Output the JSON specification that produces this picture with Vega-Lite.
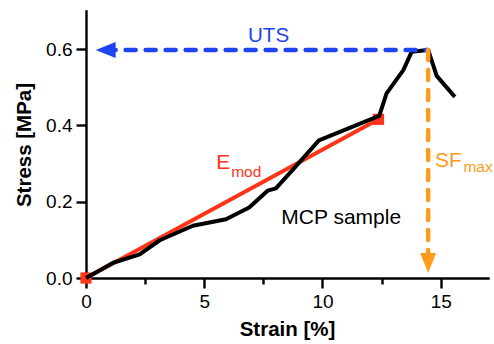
{
  "$schema": "https://vega.github.io/schema/vega-lite/v6.json",
  "width": 402,
  "height": 267,
  "autosize": {"type": "none"},
  "padding": {"left": 86, "top": 11, "right": 6, "bottom": 66},
  "background": "white",
  "config": {
    "view": {"stroke": null},
    "font": "Liberation Sans",
    "axis": {"grid": false, "zindex": 0, "labelFlush": false, "domainColor": "black", "domainWidth": 2.4, "tickColor": "black", "tickWidth": 2.4, "labelColor": "black", "titleColor": "black", "labelFont": "Liberation Sans", "titleFont": "Liberation Sans", "labelFontSize": 19, "titleFontSize": 20.5, "titleFontWeight": "bold", "domainCap": "square"}
  },
  "datasets": {
    "curve": [
      {"strain": 0, "stress": 0},
      {"strain": 1.15, "stress": 0.040},
      {"strain": 2.27, "stress": 0.062},
      {"strain": 3.12, "stress": 0.099},
      {"strain": 4.52, "stress": 0.137},
      {"strain": 5.92, "stress": 0.154},
      {"strain": 6.9, "stress": 0.185},
      {"strain": 7.68, "stress": 0.229},
      {"strain": 8.03, "stress": 0.235},
      {"strain": 8.73, "stress": 0.283},
      {"strain": 9.85, "stress": 0.361},
      {"strain": 12.4, "stress": 0.425},
      {"strain": 12.71, "stress": 0.484},
      {"strain": 13.42, "stress": 0.545},
      {"strain": 13.77, "stress": 0.593},
      {"strain": 14.47, "stress": 0.598},
      {"strain": 14.83, "stress": 0.530},
      {"strain": 15.6, "stress": 0.475}
    ],
    "emod": [
      {"strain": 0, "stress": 0},
      {"strain": 12.37, "stress": 0.416}
    ],
    "uts": [
      {"strain": 0.83, "stress": 0.598},
      {"strain": 14.47, "stress": 0.598}
    ],
    "sf": [
      {"strain": 14.47, "stress": 0.598},
      {"strain": 14.47, "stress": 0.04}
    ],
    "utsHead": [{"strain": 0.83, "stress": 0.598}],
    "sfHead": [{"strain": 14.47, "stress": 0.039}],
    "utsLabel": [{"strain": 7.72, "stress": 0.618, "label": "UTS"}],
    "eLabel": [{"strain": 5.51, "stress": 0.285, "label": "E"}],
    "eSub": [{"strain": 6.14, "stress": 0.266, "label": "mod"}],
    "sfLabel": [{"strain": 14.76, "stress": 0.292, "label": "SF"}],
    "sfSub": [{"strain": 15.96, "stress": 0.279, "label": "max"}],
    "mcpLabel": [{"strain": 8.26, "stress": 0.141, "label": "MCP sample"}]
  },
  "encoding": {
    "x": {"field": "strain", "type": "quantitative", "scale": {"domain": [0, 17], "nice": false, "zero": false},
      "axis": {"title": "Strain [%]", "values": [0, 2.5, 5, 7.5, 10, 12.5, 15], "labelExpr": "datum.value % 5 === 0 ? format(datum.value, 'd') : ''", "tickSize": {"condition": {"test": "datum.value % 5 !== 0", "value": 6}, "value": 10}, "labelPadding": 4, "titlePadding": 8}},
    "y": {"field": "stress", "type": "quantitative", "scale": {"domain": [0, 0.7], "nice": false},
      "axis": {"title": "Stress [MPa]", "values": [0, 0.2, 0.4, 0.6], "format": ".1f", "tickSize": 10, "labelPadding": 4, "titlePadding": 11}}
  },
  "layer": [
    {"data": {"name": "emod"}, "mark": {"type": "line", "color": "#ff3418", "strokeWidth": 4, "zindex": 1}},
    {"data": {"name": "emod"}, "mark": {"type": "point", "shape": "square", "filled": true, "opacity": 1, "color": "#ff3418", "size": 125, "clip": false, "zindex": 1}},
    {"data": {"name": "curve"}, "mark": {"type": "line", "color": "black", "strokeWidth": 4, "strokeJoin": "round", "zindex": 1}},
    {"data": {"name": "uts"}, "mark": {"type": "line", "color": "#1d43f2", "strokeWidth": 4.5, "strokeDash": [10, 10], "strokeCap": "round", "zindex": 1}},
    {"data": {"name": "sf"}, "mark": {"type": "line", "color": "#ff9b1a", "strokeWidth": 4.5, "strokeDash": [10, 10], "strokeCap": "round", "zindex": 1}},
    {"data": {"name": "utsHead"}, "mark": {"type": "point", "shape": "M -1 0 L 1 -0.8 L 1 0.8 Z", "filled": true, "opacity": 1, "color": "#1d43f2", "size": 400, "zindex": 1}},
    {"data": {"name": "sfHead"}, "mark": {"type": "point", "shape": "M 0 1 L -0.8 -1 L 0.8 -1 Z", "filled": true, "opacity": 1, "color": "#ff9b1a", "size": 400, "zindex": 1}},
    {"data": {"name": "utsLabel"}, "mark": {"type": "text", "color": "#1d43f2", "fontSize": 20.5, "align": "center", "baseline": "alphabetic"}, "encoding": {"text": {"field": "label"}}},
    {"data": {"name": "eLabel"}, "mark": {"type": "text", "color": "#ff3418", "fontSize": 21, "align": "left", "baseline": "alphabetic"}, "encoding": {"text": {"field": "label"}}},
    {"data": {"name": "eSub"}, "mark": {"type": "text", "color": "#ff3418", "fontSize": 15.5, "align": "left", "baseline": "alphabetic"}, "encoding": {"text": {"field": "label"}}},
    {"data": {"name": "sfLabel"}, "mark": {"type": "text", "color": "#ff9b1a", "fontSize": 21, "align": "left", "baseline": "alphabetic"}, "encoding": {"text": {"field": "label"}}},
    {"data": {"name": "sfSub"}, "mark": {"type": "text", "color": "#ff9b1a", "fontSize": 15.5, "align": "left", "baseline": "alphabetic"}, "encoding": {"text": {"field": "label"}}},
    {"data": {"name": "mcpLabel"}, "mark": {"type": "text", "color": "black", "fontSize": 21, "align": "left", "baseline": "alphabetic"}, "encoding": {"text": {"field": "label"}}}
  ]
}
